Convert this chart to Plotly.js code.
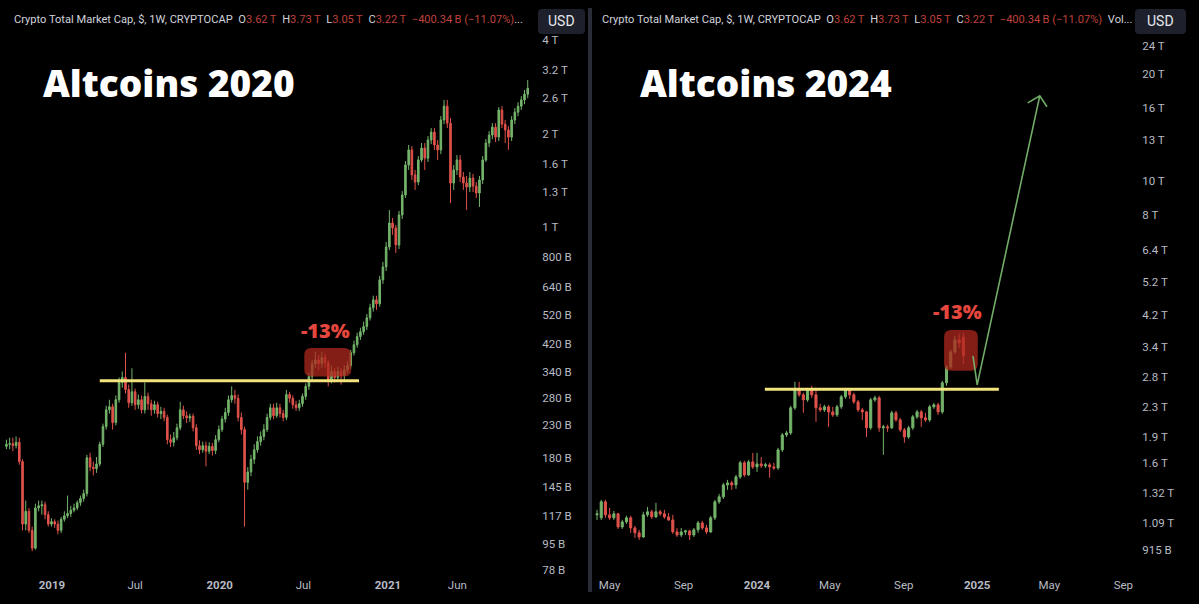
<!DOCTYPE html>
<html>
<head>
<meta charset="utf-8">
<script src="https://cdn.plot.ly/plotly-3.0.1.min.js"></script>
<style>html,body{margin:0;padding:0;background:#000;}#chart{width:1199px;height:604px;}</style>
</head>
<body>
<div id="chart"></div>
<script>
// ---------- DATA (values in billions USD, weekly candles) ----------
const leftStart = '2018-09-24';
const leftOpen = [196,199,200,197,202,175,110,121,105,92, 124,126,127,118,110,112,110,105,114,117, 119,122,124,129,133,138,180,168,166,172, 199,227,257,263,234,277,315,327,299,271, 294,267,277,257,284,269,257,267,250,254, 243,206,202,209,225,257,246,242,245,225, 197,191,197,189,196,190,206,222,240,252, 277,286,280,243,222,150,162,178,191,203, 211,222,243,261,246,261,250,243,288,280, 267,261,269,284,306,329,362,372,362,379, 365,321,342,327,342,332,346,357,393,417, 443,459,477,509,549,582,565,675,743,862, 1030,993,875,1093,1268,1585,1772,1472,1396,1645, 1797,1667,1908,2023,1838,1772,2213,2453,2162,1386, 1527,1645,1449,1386,1345,1438,1355,1286,1418,1645, 1865,1979,2099,1949,2384,2146,2055,1949,2213,2346, 2453,2570,2681];
const leftHigh = [206,209,209,211,209,178,131,124,108,128, 131,131,130,121,115,114,113,116,121,136, 126,128,131,136,142,184,187,175,181,203, 232,265,277,269,286,327,342,393,310,350, 301,288,286,315,292,277,275,273,263,261, 248,214,218,232,273,265,254,250,250,231, 205,203,203,202,201,213,229,246,261,286, 306,298,288,252,227,168,184,199,211,219, 231,250,269,269,271,269,257,298,294,286, 275,277,290,313,339,372,396,387,396,390, 372,357,351,354,351,357,368,401,430,456, 473,495,524,565,600,600,695,772,895,1134, 1069,1015,1126,1305,1632,1838,1824,1527,1693,1865, 1865,1964,2084,2084,1908,2278,2570,2570,2244,1585, 1706,1706,1504,1460,1504,1483,1396,1460,1693,1921, 2039,2162,2162,2435,2453,2213,2115,2278,2418,2527, 2641,2766,2979];
const leftLow = [192,192,189,193,171,105,105,103,90,91, 121,118,114,108,108,107,102,103,112,115, 116,120,122,126,130,135,163,158,161,169, 195,222,250,222,229,271,303,290,261,265, 257,259,250,250,257,246,250,243,240,236, 199,195,196,205,221,240,233,235,219,191, 185,187,169,185,183,185,202,218,234,246, 271,269,236,214,108,142,157,172,187,197, 205,218,238,240,242,243,236,238,271,259, 255,255,263,277,298,321,351,346,351,351, 306,313,315,317,310,321,337,349,385,408, 432,449,465,499,533,540,553,655,721,843, 943,824,849,1061,1240,1527,1418,1316,1365,1621, 1527,1619,1850,1772,1645,1718,2146,2084,1195,1316, 1472,1396,1316,1134,1296,1296,1240,1160,1375,1621, 1810,1921,1878,1893,2084,1865,1772,1893,2146,2278, 2384,2490,2603];
const leftClose = [199,200,197,202,175,110,121,105,92,124, 126,127,118,110,112,110,105,114,117,119, 122,124,129,133,138,180,168,166,172,199, 227,257,263,234,277,315,327,299,271,294, 267,277,257,284,269,257,267,250,254,243, 206,202,209,225,257,246,242,245,225,197, 191,197,189,196,190,206,222,240,252,277, 286,280,243,222,150,162,178,191,203,211, 222,243,261,246,261,250,243,288,280,267, 261,269,284,306,329,362,372,362,379,365, 321,342,327,342,332,346,357,393,417,443, 459,477,509,549,582,565,675,743,862,1030, 993,875,1093,1268,1585,1772,1472,1396,1645,1797, 1667,1908,2023,1838,1772,2213,2453,2162,1386,1527, 1645,1449,1386,1345,1438,1355,1286,1418,1645,1865, 1979,2099,1949,2384,2146,2055,1949,2213,2346,2453, 2570,2681,2803];

const rightStart = '2023-04-10';
const rightOpen = [1146,1124,1247,1146,1124,1154,1060,1095,1124,1053, 1020,993,1146,1169,1131,1169,1154,1131,1109,1026, 1006,1026,1033,1006,1040,1088,1053,1026,1124,1247, 1288,1392,1410,1392,1466,1606,1485,1616,1564,1595, 1575,1585,1564,1554,1747,1925,1950,2294,2578,2496, 2416,2578,2496,2294,2264,2309,2235,2192,2309,2464, 2578,2496,2385,2264,2235,2015,2416,2448,2015,2028, 2015,2221,2122,1989,1900,2015,2164,2235,2150,2122, 2309,2339,2235,2698,2993,3298,3566,3620];
const rightHigh = [1184,1263,1263,1199,1176,1161,1109,1139,1139,1067, 1040,1169,1207,1184,1239,1184,1184,1161,1146,1053, 1053,1040,1040,1053,1102,1102,1074,1139,1263,1313, 1410,1438,1429,1485,1627,1627,1637,1713,1713,1669, 1606,1606,1606,1770,1950,1976,2324,2716,2716,2529, 2612,2646,2612,2354,2339,2339,2309,2339,2496,2612, 2612,2529,2416,2294,2250,2448,2480,2480,2055,2055, 2250,2250,2150,2015,2042,2192,2264,2264,2221,2339, 2370,2370,2733,3031,3341,3659,3707,3730];
const rightLow = [1109,1109,1124,1109,1109,1046,1046,1081,1020,987, 974,987,1131,1117,1124,1139,1117,1102,1013,993, 993,1006,974,993,1020,1040,1013,1020,1109,1231, 1271,1348,1348,1357,1447,1466,1476,1544,1514,1554, 1554,1457,1534,1534,1724,1900,1925,2264,2464,2221, 2385,2448,2095,2235,2235,2028,2164,2164,2279,2432, 2432,2354,2235,2122,1900,1989,2385,1963,1691,1963, 2002,2095,1963,1828,1875,1989,2136,2028,2095,2095, 2279,2192,2206,2646,2955,3256,3385,3050];
const rightClose = [1154,1247,1146,1124,1154,1060,1095,1124,1053,1020, 993,1146,1169,1131,1169,1154,1131,1109,1026,1006, 1026,1033,1006,1040,1088,1053,1026,1124,1247,1288, 1392,1410,1392,1466,1606,1485,1616,1564,1595,1575, 1585,1564,1554,1747,1925,1950,2294,2578,2496,2416, 2578,2496,2294,2264,2309,2235,2192,2309,2464,2578, 2496,2385,2264,2235,2015,2416,2448,2015,2028,2015, 2221,2122,1989,1900,2015,2164,2235,2150,2122,2309, 2339,2235,2698,2993,3298,3566,3498,3220];

// axis tick labels
const leftYTicks = [78,95,117,145,180,230,280,340,420,520,640,800,1000,1300,1600,2000,2600,3200,4000];
const leftYText = ['78 B','95 B','117 B','145 B','180 B','230 B','280 B','340 B','420 B','520 B','640 B','800 B','1 T','1.3 T','1.6 T','2 T','2.6 T','3.2 T','4 T'];
const rightYTicks = [915,1090,1320,1600,1900,2300,2800,3400,4200,5200,6400,8000,10000,13000,16000,20000,24000];
const rightYText = ['915 B','1.09 T','1.32 T','1.6 T','1.9 T','2.3 T','2.8 T','3.4 T','4.2 T','5.2 T','6.4 T','8 T','10 T','13 T','16 T','20 T','24 T'];
const leftXTicks = ['2019-01-01','2019-07-01','2020-01-01','2020-07-01','2021-01-01','2021-06-01'];
const leftXText = ['<b>2019</b>','Jul','<b>2020</b>','Jul','<b>2021</b>','Jun'];
const rightXTicks = ['2023-05-01','2023-09-01','2024-01-01','2024-05-01','2024-09-01','2025-01-01','2025-05-01','2025-09-01'];
const rightXText = ['May','Sep','<b>2024</b>','May','Sep','<b>2025</b>','May','Sep'];

// annotation values
const leftResistance = 319;            // yellow line level (B)
const rightResistance = 2590;
const leftPullbackBox = {x0:'2020-07-03', x1:'2020-10-13', y0:329, y1:407};
const rightPullbackBox = {x0:'2024-11-07', x1:'2025-01-02', y0:2916, y1:3804};
const arrowPts = [['2024-12-25',3214],['2025-01-01',2663],['2025-04-15',17355]];
const arrowWings = [['2025-03-26',16586],['2025-04-27',16164]];
const headerVals = ['3.62\u2009T','3.73\u2009T','3.05\u2009T','3.22\u2009T','−400.34\u2009B (−11.07%)'];

// ---------- BUILD ----------
function weekly(start, n){
  const t0 = Date.parse(start + 'T00:00:00Z');
  return Array.from({length:n}, (_, i) => new Date(t0 + i*7*864e5).toISOString().slice(0,10));
}
const GREEN = '#74b46b', RED = '#e0524b';
function candle(x, o, h, l, c, xa, ya){
  return {type:'candlestick', x:x, open:o, high:h, low:l, close:c, xaxis:xa, yaxis:ya,
    increasing:{line:{color:GREEN, width:1}, fillcolor:GREEN},
    decreasing:{line:{color:RED, width:1}, fillcolor:RED},
    whiskerwidth:0, hoverinfo:'skip', showlegend:false};
}
const traces = [
  candle(weekly(leftStart, leftClose.length), leftOpen, leftHigh, leftLow, leftClose, 'x', 'y'),
  candle(weekly(rightStart, rightClose.length), rightOpen, rightHigh, rightLow, rightClose, 'x2', 'y2')
];

const W = 1199, H = 604;
const yDom = [(H-576)/H, (H-36)/H];
const lxDom = [0, 536/W], rxDom = [594/W, 1136/W];
const lxRange = ['2018-09-10','2021-11-19'], rxRange = ['2023-04-05','2025-09-22'];
const lyRange = [1.874, 3.616], ryRange = [2.887, 4.408];

function scaleInfo(xDom, xRange, yRange){
  const days = (Date.parse(xRange[1]) - Date.parse(xRange[0]))/864e5;
  return {pxPerDay: (xDom[1]-xDom[0])*W/days, pxPerDec: (yDom[1]-yDom[0])*H/(yRange[1]-yRange[0])};
}
function fmt(ms){ return new Date(ms).toISOString().slice(0,19).replace('T','_'); }
function roundBox(b, s, r){
  const t0 = Date.parse(b.x0), t1 = Date.parse(b.x1);
  const dx = r / s.pxPerDay * 864e5, f = Math.pow(10, r / s.pxPerDec);
  const P = (t, v) => fmt(t) + ',' + v;
  return 'M' + P(t0+dx, b.y1) + ' L' + P(t1-dx, b.y1) + ' Q' + P(t1, b.y1) + ' ' + P(t1, b.y1/f) +
    ' L' + P(t1, b.y0*f) + ' Q' + P(t1, b.y0) + ' ' + P(t1-dx, b.y0) +
    ' L' + P(t0+dx, b.y0) + ' Q' + P(t0, b.y0) + ' ' + P(t0, b.y0*f) +
    ' L' + P(t0, b.y1/f) + ' Q' + P(t0, b.y1) + ' ' + P(t0+dx, b.y1) + ' Z';
}
function paperRound(x0, x1, y0, y1, r){ // pixel coordinates -> paper path
  const X = v => (v/W).toFixed(5), Y = v => (1 - v/H).toFixed(5);
  const P = (x, y) => X(x) + ',' + Y(y);
  return 'M' + P(x0+r, y0) + ' L' + P(x1-r, y0) + ' Q' + P(x1, y0) + ' ' + P(x1, y0+r) +
    ' L' + P(x1, y1-r) + ' Q' + P(x1, y1) + ' ' + P(x1-r, y1) + ' L' + P(x0+r, y1) +
    ' Q' + P(x0, y1) + ' ' + P(x0, y1-r) + ' L' + P(x0, y0+r) + ' Q' + P(x0, y0) + ' ' + P(x0+r, y0) + ' Z';
}
const ls = scaleInfo(lxDom, lxRange, lyRange), rs = scaleInfo(rxDom, rxRange, ryRange);

const YELLOW = '#f3e37c';
const BOXFILL = 'rgba(175,40,30,0.75)';
const shapes = [
  {type:'line', xref:'x', yref:'y', x0:'2019-04-15', x1:'2020-10-30', y0:leftResistance, y1:leftResistance, line:{color:YELLOW, width:3}},
  {type:'line', xref:'x2', yref:'y2', x0:'2024-01-14', x1:'2025-02-06', y0:rightResistance, y1:rightResistance, line:{color:YELLOW, width:3}},
  {type:'path', xref:'x', yref:'y', path:roundBox(leftPullbackBox, ls, 7), fillcolor:BOXFILL, line:{width:0}, layer:'above'},
  {type:'path', xref:'x2', yref:'y2', path:roundBox(rightPullbackBox, rs, 7), fillcolor:BOXFILL, line:{width:0}, layer:'above'},
  {type:'path', xref:'x2', yref:'y2',
    path:'M' + arrowPts.map(p => p[0] + ',' + p[1]).join(' L') +
         ' M' + arrowWings[0][0] + ',' + arrowWings[0][1] + ' L' + arrowPts[2][0] + ',' + arrowPts[2][1] + ' L' + arrowWings[1][0] + ',' + arrowWings[1][1],
    line:{color:'#72ad68', width:1.6}},
  // panel divider
  {type:'line', xref:'paper', yref:'paper', x0:590/W, x1:590/W, y0:(H-592)/H, y1:(H-8)/H, line:{color:'#2a2d37', width:4}},
  // USD boxes
  {type:'path', xref:'paper', yref:'paper', path:paperRound(538, 585, 9, 34, 4), fillcolor:'#1e212b', line:{width:0}},
  {type:'path', xref:'paper', yref:'paper', path:paperRound(1135, 1186, 9, 34, 4), fillcolor:'#1e212b', line:{width:0}}
];

const RV = s => '<span style="color:#bf423c">' + s + '</span>';
const headerBase = 'Crypto Total Market Cap, $, 1W, CRYPTOCAP\u2002O' + RV(headerVals[0]) + '\u2002H' + RV(headerVals[1]) +
  '\u2002L' + RV(headerVals[2]) + '\u2002C' + RV(headerVals[3]) + '\u2002' + RV(headerVals[4]);
const hdrFont = {family:'Roboto, Inter, sans-serif', size:11.1, color:'#d1d4dc'};
const titleFont = {family:'Open Sans, Lato, sans-serif', size:37, color:'#ffffff', weight:800};
const pctFont = {family:'Open Sans, Lato, sans-serif', size:20, color:'#e5463d', weight:800};
const annotations = [
  {xref:'paper', yref:'paper', x:12/W, y:1-20/H, xanchor:'left', yanchor:'middle', showarrow:false, text:headerBase + '...', font:hdrFont},
  {xref:'paper', yref:'paper', x:600/W, y:1-20/H, xanchor:'left', yanchor:'middle', showarrow:false, text:headerBase + '\u2002Vol...', font:hdrFont},
  {xref:'paper', yref:'paper', x:561.5/W, y:1-21.5/H, xanchor:'center', yanchor:'middle', showarrow:false, text:'USD', font:{family:'Roboto, sans-serif', size:14, color:'#e6e8ee'}},
  {xref:'paper', yref:'paper', x:1160.5/W, y:1-21.5/H, xanchor:'center', yanchor:'middle', showarrow:false, text:'USD', font:{family:'Roboto, sans-serif', size:14, color:'#e6e8ee'}},
  {xref:'paper', yref:'paper', x:41/W, y:1-82/H, xanchor:'left', yanchor:'middle', showarrow:false, text:'Altcoins 2020', font:titleFont},
  {xref:'paper', yref:'paper', x:638/W, y:1-82/H, xanchor:'left', yanchor:'middle', showarrow:false, text:'Altcoins 2024', font:titleFont},
  {xref:'x', yref:'y', x:'2020-08-19', y:Math.log10(465), xanchor:'center', yanchor:'middle', showarrow:false, text:'-13%', font:pctFont},
  {xref:'x2', yref:'y2', x:'2024-11-30', y:Math.log10(4276), xanchor:'center', yanchor:'middle', showarrow:false, text:'-13%', font:pctFont}
];

const tickFont = {family:'Roboto, sans-serif', size:11.5, color:'#b8bbc4'};
function xax(dom, range, vals, text, anchor){
  return {domain:dom, type:'date', range:range, anchor:anchor, showgrid:false, zeroline:false, showline:false,
    ticks:'', tickmode:'array', tickvals:vals, ticktext:text, tickfont:tickFont, rangeslider:{visible:false}, fixedrange:true};
}
function yax(range, vals, text, anchor){
  return {domain:yDom, type:'log', range:range, anchor:anchor, side:'right', showgrid:false, zeroline:false, showline:false,
    ticks:'outside', ticklen:3, tickcolor:'rgba(0,0,0,0)', tickmode:'array', tickvals:vals, ticktext:text, tickfont:tickFont, fixedrange:true};
}
const layout = {
  width:W, height:H, margin:{l:0, r:0, t:0, b:0},
  paper_bgcolor:'#000000', plot_bgcolor:'#000000', showlegend:false,
  xaxis: xax(lxDom, lxRange, leftXTicks, leftXText, 'y'),
  yaxis: yax(lyRange, leftYTicks, leftYText, 'x'),
  xaxis2: xax(rxDom, rxRange, rightXTicks, rightXText, 'y2'),
  yaxis2: yax(ryRange, rightYTicks, rightYText, 'x2'),
  shapes: shapes, annotations: annotations
};
Plotly.newPlot('chart', traces, layout, {staticPlot:true, displayModeBar:false});
</script>
</body>
</html>
